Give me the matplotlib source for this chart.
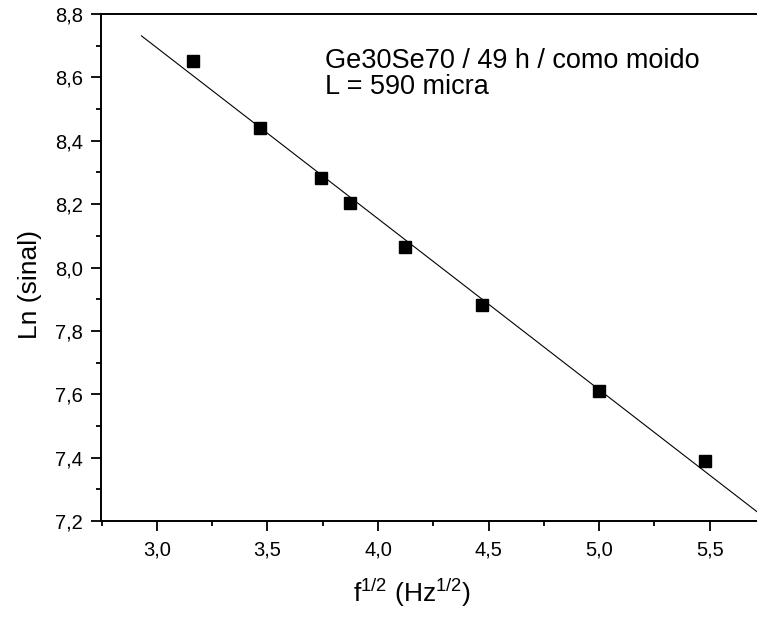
import matplotlib
matplotlib.use("Agg")
import matplotlib.pyplot as plt
import numpy as np
from matplotlib.ticker import MultipleLocator, FuncFormatter

plt.rcParams['font.family'] = ['Liberation Sans', 'DejaVu Sans']
plt.rcParams['mathtext.fontset'] = 'custom'
plt.rcParams['mathtext.rm'] = 'Liberation Sans'
plt.rcParams['mathtext.it'] = 'Liberation Sans'

# square root of modulation frequency and log of the signal
sqrt_f = np.sqrt([10, 12, 14, 15, 17, 20, 25, 30])
ln_sinal = [8.652, 8.440, 8.282, 8.203, 8.064, 7.882, 7.610, 7.389]

fit_start, fit_end = 2.93, 5.8

fig = plt.figure(figsize=(7.57, 6.19), dpi=100)
ax = fig.add_axes([0.1334, 0.1583, 0.8666, 0.8191])

slope, inter = np.polyfit(sqrt_f, ln_sinal, 1)
xf = np.array([fit_start, fit_end])
ax.plot(xf, slope * xf + inter, color='black', lw=0.8)
ax.plot(sqrt_f, ln_sinal, 's', color='black', ms=8, clip_on=False)

ax.set_xlim(2.747, 5.714)
ax.set_ylim(7.2, 8.8)

ax.xaxis.set_major_locator(MultipleLocator(0.5))
ax.xaxis.set_minor_locator(MultipleLocator(0.25))
ax.yaxis.set_major_locator(MultipleLocator(0.2))
ax.yaxis.set_minor_locator(MultipleLocator(0.1))
comma = FuncFormatter(lambda v, p: f"{v:.1f}".replace('.', ','))
ax.xaxis.set_major_formatter(comma)
ax.yaxis.set_major_formatter(comma)

ax.tick_params(which='major', direction='out', length=7, width=1.3, labelsize=14.5)
ax.tick_params(axis='y', which='major', pad=6)
ax.tick_params(axis='x', which='major', pad=7)
ax.tick_params(which='minor', direction='out', length=3.6, width=1.3)
ax.tick_params(top=False, right=False, which='both')

for s in ('left', 'bottom', 'top'):
    ax.spines[s].set_linewidth(1.4)
ax.spines['right'].set_visible(False)

ax.set_xlabel('f$^{1/2}$ (Hz$^{1/2}$)', fontsize=19, va='center')
ax.set_ylabel('Ln (sinal)', fontsize=19)
ax.xaxis.set_label_coords(0.474, -0.142)
ax.yaxis.set_label_coords(-0.090, 0.467)

ax.text(0.341, 0.893, 'Ge30Se70 / 49 h / como moido', transform=ax.transAxes,
        fontsize=19.5, va='baseline')
ax.text(0.341, 0.842, 'L = 590 micra', transform=ax.transAxes,
        fontsize=19.5, va='baseline')

fig.savefig('out.png', dpi=100)
